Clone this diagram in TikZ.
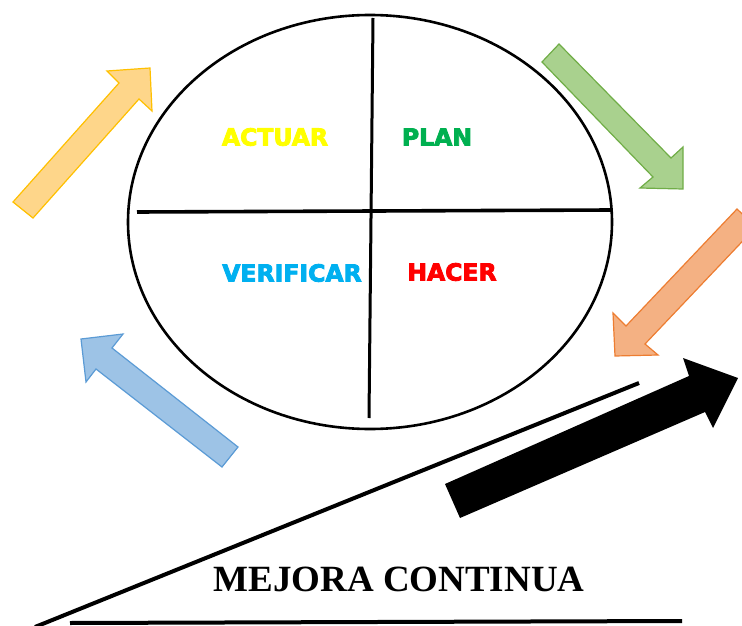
\documentclass[tikz,border=0pt]{standalone}
\usepackage{fontspec}
\setmainfont{Liberation Serif}
\newfontfamily\labfont{DejaVu Sans Bold}[FakeBold=3.6]
\definecolor{cyellowfill}{RGB}{254,214,138}
\definecolor{cyellowline}{RGB}{255,192,0}
\definecolor{cgreenfill}{RGB}{169,209,142}
\definecolor{cgreenline}{RGB}{112,173,71}
\definecolor{corangefill}{RGB}{244,177,131}
\definecolor{corangeline}{RGB}{237,125,49}
\definecolor{cbluefill}{RGB}{157,195,230}
\definecolor{cblueline}{RGB}{91,155,213}
\definecolor{tyellow}{RGB}{255,255,0}
\definecolor{tgreen}{RGB}{0,176,80}
\definecolor{tblue}{RGB}{0,176,240}
\definecolor{tred}{RGB}{255,0,0}
\tikzset{
  quadlabel/.style={font=\labfont\fontsize{23.5}{28}\selectfont, inner sep=0pt},
  blockarrow/.style={line width=1.2pt, line join=miter},
}
\begin{document}
\begin{tikzpicture}[x=1pt,y=-1pt]
\useasboundingbox (0,0) rectangle (742,626);
\clip (0,0) rectangle (742,626);
% cycle circle
\draw[line width=2.6pt] (370,222) ellipse [x radius=242, y radius=207];
\coordinate (hl) at (137,212);
\coordinate (hr) at (611,210);
\coordinate (vt) at (373,18);
\coordinate (vb) at (369,418);
\draw[line width=3.6pt] (hl) -- (hr);
\draw[line width=3pt] (vt) -- (vb);
% labels
\node[quadlabel, text=tyellow] (actuar) at (275,137) {ACTUAR};
\node[quadlabel, text=tgreen] (plan) at (437,137) {PLAN};
\node[quadlabel, text=tblue] (verificar) at (292,273) {VERIFICAR};
\node[quadlabel, text=tred] (hacer) at (452,272) {HACER};
% yellow arrow
\draw[blockarrow, fill=cyellowfill, draw=cyellowline]
  (13,202) -- (119,83) -- (107,71) -- (150,68) -- (152,111) -- (139,99) -- (33,218) -- cycle;
% green arrow
\draw[blockarrow, fill=cgreenfill, draw=cgreenline]
  (559,44) -- (671,158) -- (683,147) -- (683,189) -- (640,188) -- (653,177) -- (542,62) -- cycle;
% orange arrow
\draw[blockarrow, fill=corangefill, draw=corangeline]
  (737,209) -- (626,326) -- (613,313) -- (615,356) -- (658,355) -- (645,344) -- (756,227) -- cycle;
% blue arrow
\draw[blockarrow, fill=cbluefill, draw=cblueline]
  (238,447) -- (112,348) -- (123,334) -- (81,339) -- (86,382) -- (96,369) -- (222,467) -- cycle;
% black arrow
\fill[black]
  (445,484) -- (689,376) -- (683,358) -- (738,378) -- (713,428) -- (705,412) -- (460,518) -- cycle;
% wedge lines
\coordinate (wt) at (639,383);
\coordinate (wb) at (35,627);
\draw[line width=4pt] (wt) -- (wb);
\coordinate (bl) at (70,623);
\coordinate (br) at (682,621);
\draw[line width=4pt] (bl) -- (br);
\node[font=\bfseries\fontsize{37}{40}\selectfont, inner sep=0pt] (mejora) at (399,579) {MEJORA CONTINUA};
\end{tikzpicture}
\end{document}
